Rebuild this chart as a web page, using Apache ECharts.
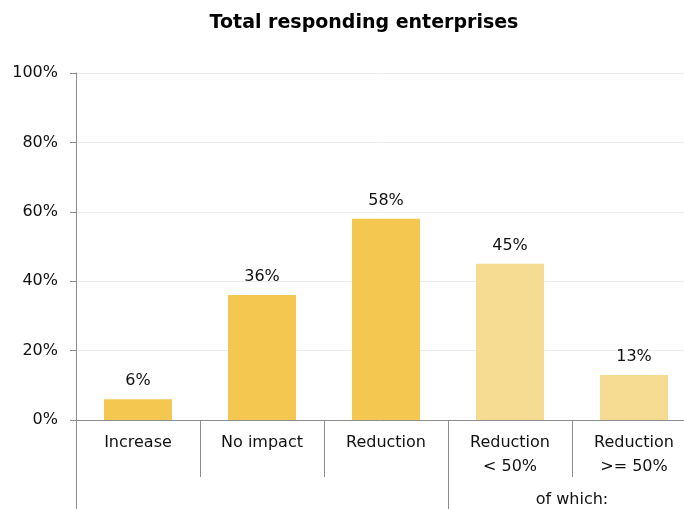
<!DOCTYPE html>
<html><head><meta charset="utf-8">
<script src="https://cdn.jsdelivr.net/npm/echarts@6/dist/echarts.min.js"></script>
<style>html,body{margin:0;padding:0;background:#fff}#c{width:684px;height:509px}</style>
</head><body><div id="c"></div>
<script>
const categories = ['Increase', 'No impact', 'Reduction', 'Reduction\n< 50%', 'Reduction\n>= 50%'];
const values = [6, 36, 58, 45, 13];
const groupPoints = ['', '', '', '', 'of which:', ''];
const yTicks = [0, 20, 40, 60, 80, 100];

const FONT = 'DejaVu Sans';
const chart = echarts.init(document.getElementById('c'), null, {renderer: 'canvas'});
const data = values.map((v, i) => ({
  value: v,
  itemStyle: {color: i >= 3 ? '#F6DC92' : '#F3C750'}
}));
chart.setOption({
  animation: false,
  textStyle: {fontFamily: FONT},
  title: {
    text: 'Total responding enterprises',
    left: 359, top: 9, textAlign: 'center',
    textStyle: {fontFamily: FONT, fontSize: 19, fontWeight: 'bold', color: '#000'}
  },
  grid: {left: 76, width: 620, top: 73, bottom: 89, outerBoundsMode: 'none'},
  xAxis: [{
    type: 'category',
    data: categories,
    position: 'bottom',
    axisLine: {show: true, lineStyle: {color: '#8c8c8c', width: 1}},
    axisTick: {show: true, length: 57, alignWithLabel: false, lineStyle: {color: '#8c8c8c'}},
    axisLabel: {fontFamily: FONT, fontSize: 16, color: '#111', margin: 11, lineHeight: 24, interval: 0}
  }, {
    type: 'category',
    data: groupPoints,
    boundaryGap: false,
    position: 'bottom',
    offset: 57,
    axisLine: {show: false},
    axisTick: {show: true, length: 34, interval: (i) => i === 0 || i === 3, lineStyle: {color: '#8c8c8c'}},
    axisLabel: {fontFamily: FONT, fontSize: 16, color: '#111', margin: 15, interval: 0}
  }],
  yAxis: {
    type: 'value', min: 0, max: 100, interval: 20,
    axisLine: {show: true, lineStyle: {color: '#8c8c8c'}},
    axisTick: {show: true, length: 6, lineStyle: {color: '#8c8c8c'}},
    axisLabel: {fontFamily: FONT, fontSize: 16, color: '#111', margin: 18,
      formatter: v => yTicks.includes(v) ? v + '%' : ''},
    splitLine: {show: true, lineStyle: {color: '#ececec', width: 1}}
  },
  series: [{
    type: 'bar',
    xAxisIndex: 0,
    data: data,
    barWidth: 68,
    label: {show: true, position: 'top', distance: 10, fontFamily: FONT, fontSize: 16, color: '#111',
      formatter: p => p.value + '%'}
  }]
});
</script></body></html>
